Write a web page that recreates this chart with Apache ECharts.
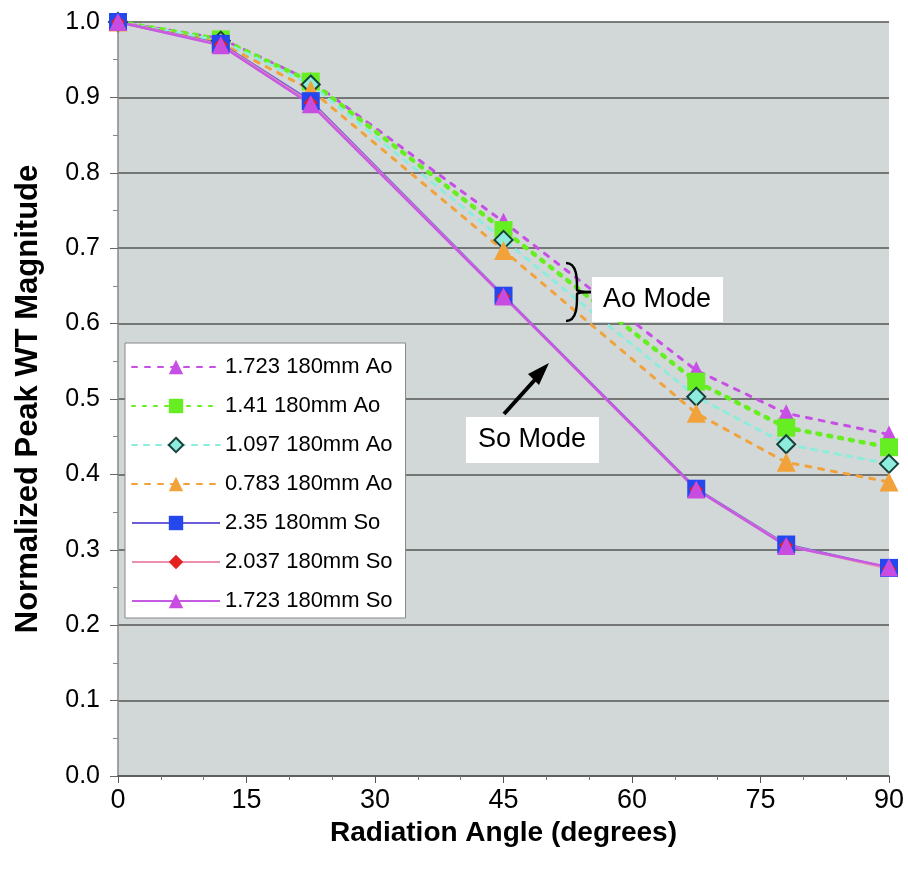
<!DOCTYPE html>
<html>
<head>
<meta charset="utf-8">
<script src="https://cdn.jsdelivr.net/npm/echarts@6/dist/echarts.min.js"></script>
<style>
  html, body { margin: 0; padding: 0; background: #fff; }
  #chart { width: 908px; height: 870px; }
</style>
</head>
<body>
<div id="chart"></div>
<script>
// Radiation angles (degrees) at which the peak WT magnitude was measured
const angles = [0, 12, 22.5, 45, 67.5, 78, 90];

// Ao mode, normalized peak WT magnitude
const ao1723 = [1.0, 0.978, 0.922, 0.735, 0.538, 0.481, 0.453];
const ao141  = [1.0, 0.977, 0.921, 0.724, 0.523, 0.462, 0.436];
const ao1097 = [1.0, 0.975, 0.917, 0.711, 0.503, 0.440, 0.414];
const ao0783 = [1.0, 0.972, 0.910, 0.697, 0.481, 0.416, 0.390];

// So mode, normalized peak WT magnitude
const so235  = [1.0, 0.971, 0.895, 0.637, 0.381, 0.307, 0.276];
const so2037 = [1.0, 0.970, 0.893, 0.636, 0.380, 0.306, 0.275];
const so1723 = [1.0, 0.969, 0.891, 0.636, 0.380, 0.305, 0.277];

const seriesNames = [
  '1.723 180mm Ao', '1.41 180mm Ao', '1.097 180mm Ao', '0.783 180mm Ao',
  '2.35 180mm So', '2.037 180mm So', '1.723 180mm So'
];

const xTicks = [0, 15, 30, 45, 60, 75, 90];
const yTicks = [0.0, 0.1, 0.2, 0.3, 0.4, 0.5, 0.6, 0.7, 0.8, 0.9, 1.0];

const pairs = arr => angles.map((a, i) => [a, arr[i]]);
const FONT = 'Liberation Sans, Arial, sans-serif';

function lineSeries(name, values, color, lineStyle, symbol, symbolSize, itemStyle) {
  return {
    name, type: 'line', data: pairs(values),
    symbol, symbolSize, showSymbol: true,
    lineStyle: Object.assign({ color, width: 1.5 }, lineStyle),
    itemStyle: Object.assign({ color }, itemStyle || {}),
    emphasis: { disabled: true },
    animation: false
  };
}

const chart = echarts.init(document.getElementById('chart'), null, { renderer: 'canvas' });

// Curly brace beside the Ao Mode label: [x1, y1, x2, y2, cpx1, cpy1, cpx2, cpy2]
const brace = [
  [566, 263, 577, 290, 578, 263, 577, 282],
  [577, 290, 591, 292, 577, 291, 584, 292],
  [577, 294, 591, 292, 577, 293, 584, 292],
  [566, 321, 577, 294, 578, 321, 577, 302]
];

const option = {
  backgroundColor: '#ffffff',
  animation: false,
  grid: {
    left: 118, right: 19, top: 22, bottom: 94,
    show: true, backgroundColor: '#d2d8d8', borderWidth: 0
  },
  xAxis: {
    type: 'value', min: 0, max: 90, interval: 15,
    name: 'Radiation Angle (degrees)', nameLocation: 'middle', nameGap: 39,
    nameTextStyle: { fontFamily: FONT, fontSize: 28, fontWeight: 'bold', color: '#000' },
    axisLine: { show: true, onZero: false, lineStyle: { color: '#555', width: 1.5 } },
    axisTick: { show: true, length: 7, lineStyle: { color: '#555' } },
    minorTick: { show: true, splitNumber: 3, length: 4, lineStyle: { color: '#777' } },
    axisLabel: {
      fontFamily: FONT, fontSize: 27, color: '#000', margin: 11,
      formatter: v => xTicks.includes(v) ? String(v) : ''
    },
    splitLine: { show: false }
  },
  yAxis: {
    type: 'value', min: 0, max: 1, interval: 0.1,
    name: 'Normalized Peak WT Magnitude', nameLocation: 'middle', nameGap: 74,
    nameTextStyle: { fontFamily: FONT, fontSize: 31, fontWeight: 'bold', color: '#000' },
    axisLine: { show: true, lineStyle: { color: '#888', width: 1.5 } },
    axisTick: { show: true, length: 8, lineStyle: { color: '#666' } },
    minorTick: { show: true, splitNumber: 2, length: 5, lineStyle: { color: '#888' } },
    axisLabel: {
      fontFamily: FONT, fontSize: 25, color: '#000', margin: 18,
      formatter: v => yTicks.some(t => Math.abs(t - v) < 1e-9) ? v.toFixed(1) : ''
    },
    splitLine: {
      show: true,
      lineStyle: { color: '#555', width: 1.5 }
    }
  },
  legend: {
    orient: 'vertical', left: 125, top: 343,
    backgroundColor: '#ffffff', borderColor: '#888', borderWidth: 1,
    padding: [13, 13, 6, 6],
    itemWidth: 88, itemHeight: 18, itemGap: 17,
    textStyle: { fontFamily: FONT, fontSize: 22, color: '#000' },
    data: seriesNames,
    selectedMode: false
  },
  series: [
    lineSeries(seriesNames[0], ao1723, '#c84fe6', { type: [5, 8], width: 3, cap: 'round' }, 'triangle', 18),
    lineSeries(seriesNames[1], ao141, '#66ee22', { type: [3, 8], width: 4.5, cap: 'round' }, 'rect', 18),
    lineSeries(seriesNames[2], ao1097, '#8eecdc', { type: [5, 7], width: 3, cap: 'round' }, 'diamond', 18,
      { color: '#8eecdc', borderColor: '#16403c', borderWidth: 2 }),
    lineSeries(seriesNames[3], ao0783, '#f2a23a', { type: [5, 8], width: 3, cap: 'round' }, 'triangle', 19),
    lineSeries(seriesNames[4], so235, '#2448ee', { color: '#6a5fd8', width: 2.5 }, 'rect', 18),
    lineSeries(seriesNames[5], so2037, '#e51f1f', { color: '#ee8fb0', width: 2.5 }, 'diamond', 14),
    lineSeries(seriesNames[6], so1723, '#c94ce0', { color: '#c75ae2', width: 2.5 }, 'triangle', 18)
  ],
  graphic: [
    {
      type: 'rect', shape: { x: 592, y: 277, width: 131, height: 45 },
      style: { fill: '#ffffff' }, z: 50
    },
    {
      type: 'text', x: 657, y: 300, z: 51,
      style: { text: 'Ao Mode', font: '27px ' + FONT, fill: '#000', align: 'center', verticalAlign: 'middle' }
    },
    ...brace.map(b => ({
      type: 'bezierCurve', z: 51,
      shape: { x1: b[0], y1: b[1], x2: b[2], y2: b[3], cpx1: b[4], cpy1: b[5], cpx2: b[6], cpy2: b[7] },
      style: { stroke: '#000', lineWidth: 2.4, fill: null }
    })),
    {
      type: 'rect', shape: { x: 466, y: 417, width: 133, height: 46 },
      style: { fill: '#ffffff' }, z: 50
    },
    {
      type: 'text', x: 532, y: 440, z: 51,
      style: { text: 'So Mode', font: '27px ' + FONT, fill: '#000', align: 'center', verticalAlign: 'middle' }
    },
    {
      type: 'line', z: 51,
      shape: { x1: 504, y1: 414, x2: 541, y2: 373 },
      style: { stroke: '#000', lineWidth: 4 }
    },
    {
      type: 'polygon', z: 51,
      shape: { points: [[549, 363], [528, 374], [539, 385]] },
      style: { fill: '#000' }
    }
  ]
};

chart.setOption(option);
</script>
</body>
</html>
